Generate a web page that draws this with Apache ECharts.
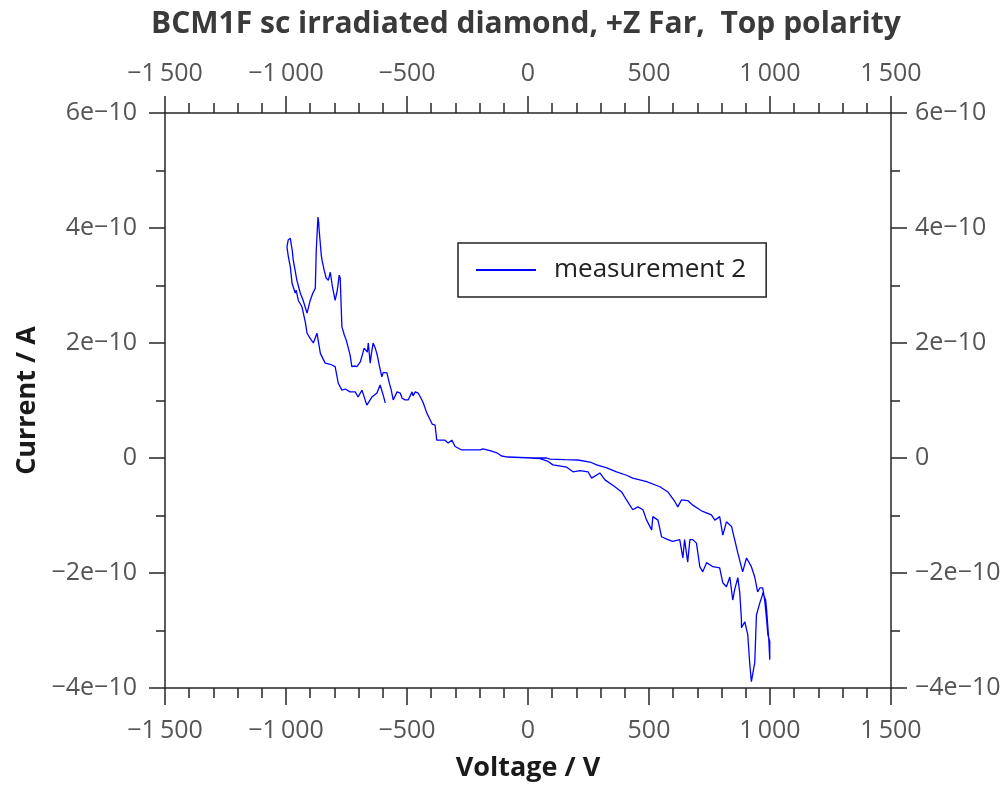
<!DOCTYPE html>
<html>
<head>
<meta charset="utf-8">
<script src="https://cdn.jsdelivr.net/npm/echarts@6/dist/echarts.min.js"></script>
<style>
html,body{margin:0;padding:0;background:#fff;}
#chart{width:1006px;height:787px;}
</style>
</head>
<body>
<div id="chart"></div>
<script>
// Data (voltage in V, current in A)
const voltage = [
  -590,-598,-611,-624,-645,-666,-686,-702,-714,-735,-755,-769,-784,-797,-817,-838,-858,-872,-887,-900,
  -913,-920,-934,-949,-958,-962,-975,-982,-991,-996,
  -991,-982,-978,-974,-970,-955,-941,-929,-913,-900,-889,-879,-875,-868,-865,-863,-854,-851,-842,-834,
  -825,-817,-809,-797,-788,-780,-776,-769,-759,-751,-743,-735,-728,-718,-707,-693,-685,-677,-673,-664,
  -660,-652,-648,-640,-631,-623,-615,-604,-598,-583,-574,-565,-557,-549,-541,-528,-520,-508,-495,-487,
  -479,-475,-466,-454,-442,-433,-418,-404,-396,-384,-377,-363,-343,-330,-315,-301,-274,-239,-198,-186,
  -157,-129,-109,-83,-33,21,77,
  91,153,206,256,284,325,366,407,433,490,545,578,607,619,634,660,681,710,722,758,
  772,792,805,820,841,854,867,887,903,923,937,949,958,970,978,986,991,999,999,
  995,986,982,970,969,958,944,937,923,916,908,896,882,882,875,867,854,846,834,820,
  805,792,764,738,722,710,696,681,669,660,647,640,627,619,598,578,552,537,516,511,
  490,475,454,433,407,387,359,318,297,263,248,215,186,160,103,83,50,8
];
const current = [
  0.96e-10,1.09e-10,1.27e-10,1.13e-10,1.06e-10,0.92e-10,1.18e-10,1.06e-10,1.15e-10,1.15e-10,1.20e-10,1.18e-10,1.30e-10,1.59e-10,1.63e-10,1.65e-10,1.82e-10,2.17e-10,2.00e-10,2.08e-10,
  2.17e-10,2.36e-10,2.63e-10,2.74e-10,2.92e-10,2.87e-10,3.04e-10,3.32e-10,3.52e-10,3.67e-10,
  3.79e-10,3.82e-10,3.70e-10,3.61e-10,3.44e-10,3.09e-10,2.87e-10,2.74e-10,2.52e-10,2.74e-10,2.87e-10,2.95e-10,3.61e-10,4.19e-10,4.10e-10,3.96e-10,3.52e-10,3.44e-10,3.26e-10,3.13e-10,
  3.09e-10,3.23e-10,3.00e-10,2.74e-10,2.92e-10,3.18e-10,3.13e-10,2.28e-10,2.14e-10,2.05e-10,2.05e-10,1.79e-10,1.59e-10,1.60e-10,1.59e-10,1.67e-10,1.79e-10,1.91e-10,1.93e-10,1.84e-10,
  2.00e-10,1.65e-10,1.79e-10,2.00e-10,1.91e-10,1.79e-10,1.62e-10,1.41e-10,1.49e-10,1.48e-10,1.32e-10,1.18e-10,1.01e-10,1.01e-10,1.15e-10,1.13e-10,1.04e-10,1.01e-10,1.01e-10,1.04e-10,
  1.15e-10,1.08e-10,1.15e-10,1.13e-10,1.04e-10,0.96e-10,0.78e-10,0.66e-10,0.59e-10,0.57e-10,0.31e-10,0.31e-10,0.31e-10,0.26e-10,0.31e-10,0.20e-10,0.14e-10,0.14e-10,0.14e-10,0.16e-10,
  0.13e-10,0.09e-10,0.035e-10,0.017e-10,0.009e-10,0,0,
  -0.02e-10,-0.03e-10,-0.035e-10,-0.07e-10,-0.12e-10,-0.17e-10,-0.24e-10,-0.30e-10,-0.35e-10,-0.41e-10,-0.50e-10,-0.59e-10,-0.76e-10,-0.85e-10,-0.73e-10,-0.74e-10,-0.82e-10,-0.90e-10,-0.93e-10,-0.99e-10,
  -1.08e-10,-1.02e-10,-1.34e-10,-1.11e-10,-1.19e-10,-1.42e-10,-1.65e-10,-1.98e-10,-1.74e-10,-1.89e-10,-2.07e-10,-2.33e-10,-2.26e-10,-2.26e-10,-2.47e-10,-2.81e-10,-3.07e-10,-3.19e-10,-3.51e-10,
  -3.16e-10,-2.64e-10,-2.47e-10,-2.34e-10,-2.38e-10,-2.52e-10,-2.73e-10,-3.56e-10,-3.89e-10,-3.56e-10,-3.07e-10,-2.85e-10,-2.95e-10,-2.81e-10,-2.34e-10,-2.08e-10,-2.29e-10,-2.47e-10,-2.07e-10,-2.24e-10,
  -2.17e-10,-1.91e-10,-1.89e-10,-1.82e-10,-1.98e-10,-1.89e-10,-1.48e-10,-1.42e-10,-1.42e-10,-1.81e-10,-1.42e-10,-1.74e-10,-1.42e-10,-1.42e-10,-1.45e-10,-1.42e-10,-1.37e-10,-1.08e-10,-1.02e-10,-1.25e-10,
  -1.08e-10,-0.90e-10,-0.85e-10,-0.90e-10,-0.73e-10,-0.59e-10,-0.50e-10,-0.38e-10,-0.26e-10,-0.35e-10,-0.24e-10,-0.22e-10,-0.24e-10,-0.16e-10,-0.12e-10,-0.06e-10,-0.01e-10,0
];
const seriesName = 'measurement 2';
const chartTitle = 'BCM1F sc irradiated diamond, +Z Far,  Top polarity';
const xTitle = 'Voltage / V';
const yTitle = 'Current / A';
const xTicks = {min: -1500, max: 1500, interval: 500};
const yTicks = {min: -4e-10, max: 6e-10, interval: 2e-10};

const FONT = "'Open Sans', 'Noto Sans', sans-serif";
const AXIS_COLOR = '#262626';
const LABEL_COLOR = '#555555';

function fmtX(v) {
  const n = Math.round(v);
  const a = Math.abs(n);
  let s = String(a);
  if (a >= 1000) s = s.slice(0, s.length - 3) + '\u2009' + s.slice(s.length - 3);
  return (n < 0 ? '\u2212' : '') + s;
}
function fmtY(v) {
  const n = Math.round(v * 1e10);
  if (n === 0) return '0';
  return (n < 0 ? '\u2212' : '') + Math.abs(n) + 'e\u221210';
}

const pts = voltage.map((v, i) => [v, current[i]]);

function xAxisCfg(pos, withName, margin) {
  return {
    type: 'value', position: pos,
    min: xTicks.min, max: xTicks.max, interval: xTicks.interval,
    name: withName ? xTitle : '',
    nameLocation: 'middle', nameGap: 67,
    nameTextStyle: {fontFamily: FONT, fontWeight: 'bold', fontSize: 27, color: '#1a1a1a'},
    axisLine: {show: true, onZero: false, lineStyle: {color: AXIS_COLOR, width: 1.5}},
    axisTick: {show: true, inside: false, length: 17, lineStyle: {color: AXIS_COLOR, width: 1.5}},
    minorTick: {show: true, splitNumber: 5, length: 10, lineStyle: {color: AXIS_COLOR, width: 1.5}},
    splitLine: {show: false},
    axisLabel: {formatter: fmtX, fontFamily: FONT, fontSize: 25, color: LABEL_COLOR, margin: margin}
  };
}
function yAxisCfg(pos, withName, margin) {
  return {
    type: 'value', position: pos,
    min: yTicks.min, max: yTicks.max, interval: yTicks.interval,
    name: withName ? yTitle : '',
    nameLocation: 'middle', nameGap: 121, nameRotate: 90,
    nameTextStyle: {fontFamily: FONT, fontWeight: 'bold', fontSize: 27, color: '#1a1a1a'},
    axisLine: {show: true, onZero: false, lineStyle: {color: AXIS_COLOR, width: 1.5}},
    axisTick: {show: true, inside: false, length: 16, lineStyle: {color: AXIS_COLOR, width: 1.5}},
    minorTick: {show: true, splitNumber: 2, length: 9, lineStyle: {color: AXIS_COLOR, width: 1.5}},
    splitLine: {show: false},
    axisLabel: {formatter: fmtY, fontFamily: FONT, fontSize: 25, color: LABEL_COLOR, margin: margin}
  };
}

const chart = echarts.init(document.getElementById('chart'), null, {renderer: 'canvas'});
chart.setOption({
  animation: false,
  backgroundColor: '#ffffff',
  title: {
    text: chartTitle, left: 151, top: 9, padding: 0,
    textStyle: {fontFamily: FONT, fontWeight: 'bold', fontSize: 30, color: '#3a3a3a'}
  },
  grid: {left: 165, right: 115, top: 113, bottom: 98, containLabel: false},
  legend: {
    left: 458, top: 243,
    orient: 'vertical',
    data: [{name: seriesName, icon: 'rect'}],
    itemWidth: 60, itemHeight: 2,
    padding: [14, 20, 14, 18],
    borderColor: '#222', borderWidth: 1.5, backgroundColor: '#fff',
    textStyle: {fontFamily: FONT, fontSize: 26, color: '#222', padding: [0, 0, 0, 13]}
  },
  xAxis: [xAxisCfg('bottom', true, 30), xAxisCfg('top', false, 27)],
  yAxis: [yAxisCfg('left', true, 28), yAxisCfg('right', false, 24)],
  series: [{
    name: seriesName, type: 'line', xAxisIndex: 0, yAxisIndex: 0,
    data: pts, showSymbol: false, symbol: 'none',
    lineStyle: {color: '#0000ff', width: 1.3},
    itemStyle: {color: '#0000ff'}
  }]
});
</script>
</body>
</html>
